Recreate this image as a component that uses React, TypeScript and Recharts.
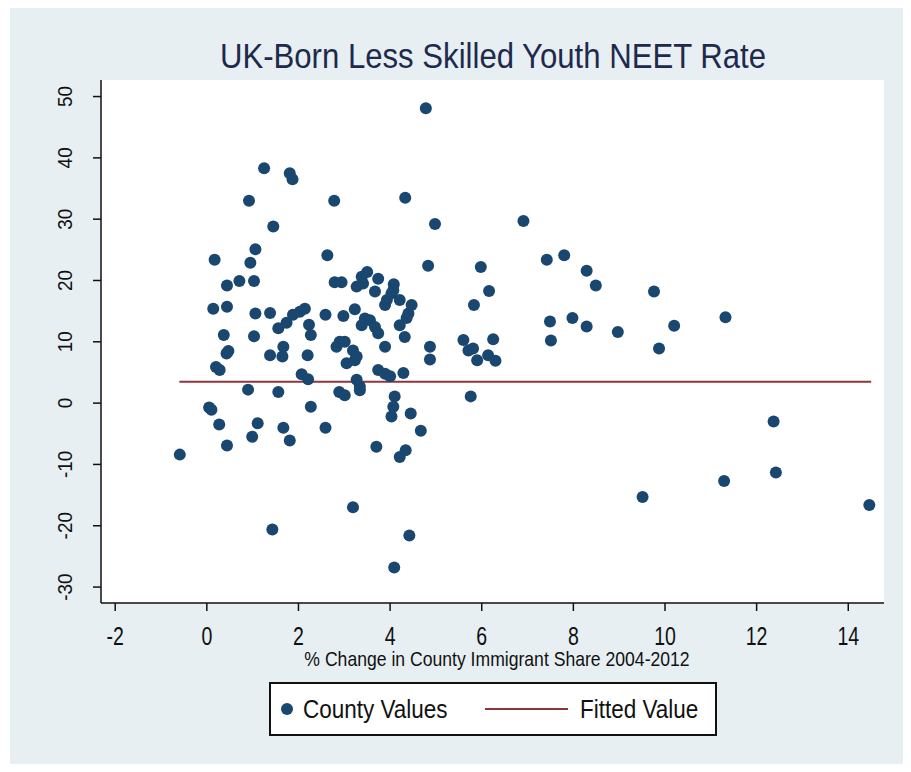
import React from 'react';
import { ScatterChart, Scatter, XAxis, YAxis, CartesianGrid } from 'recharts';

const COUNTY_X = [
  1.25, 1.81, 1.87, 0.92, 2.78, 1.45, 1.06, 0.17, 0.95, 2.63, 0.44, 0.71, 1.03, 2.79,
  0.14, 0.44, 1.06, 1.38, 1.56, 1.74, 1.88, 2.03, 2.14, 2.23, 2.27, 2.59, 0.37, 1.03,
  2.83, 1.67, 1.65, 1.38, 0.43, 0.47, 2.2, 0.2, 0.28, 2.07, 2.21, 0.9, 1.56, 2.89,
  0.05, 0.1, 2.27, 0.27, 1.11, 1.67, 2.59, 0.99, 1.81, 0.44, -0.59,
  4.33, 4.98, 4.83, 2.94, 3.27, 3.38, 3.5, 3.41, 3.74, 3.67, 4.08, 4.07,
  2.98, 3.23, 3.45, 3.56, 3.67, 3.74, 3.38, 3.89, 3.93, 4.03, 4.21, 4.47, 4.4, 4.36,
  4.21, 4.32, 2.9, 3.01, 3.19, 3.27, 3.23, 3.05, 3.89, 3.74, 3.89, 4.0, 4.29, 4.87,
  4.87, 3.27, 3.34, 3.34, 3.01, 4.1, 4.07, 4.03, 4.45, 4.67, 3.7, 4.21, 4.34,
  3.19, 1.43, 4.42, 4.09,
  6.91, 5.98, 6.16, 5.83, 7.42, 7.8, 8.29, 8.49, 7.49, 7.51, 7.98, 8.29, 8.97,
  5.6, 5.71, 5.81, 5.9, 6.25, 6.14, 6.3, 5.76,
  9.76, 10.2, 9.87, 11.32, 12.37, 12.42, 11.29, 9.51, 14.46, 4.78,
];
const COUNTY_Y = [
  38.3, 37.5, 36.5, 33.0, 33.0, 28.8, 25.1, 23.4, 22.9, 24.1, 19.2, 19.9, 19.9, 19.7,
  15.4, 15.7, 14.6, 14.7, 12.2, 13.1, 14.4, 14.9, 15.4, 12.8, 11.1, 14.4, 11.1, 10.9,
  9.2, 9.2, 7.6, 7.8, 8.1, 8.5, 7.8, 5.9, 5.4, 4.7, 3.9, 2.2, 1.8, 1.8,
  -0.7, -1.1, -0.6, -3.5, -3.3, -4.0, -4.0, -5.5, -6.1, -6.9, -8.4,
  33.5, 29.2, 22.4, 19.7, 19.0, 20.6, 21.4, 19.5, 20.3, 18.2, 19.4, 18.4,
  14.2, 15.3, 13.8, 13.5, 12.4, 11.4, 12.7, 16.0, 16.8, 17.9, 16.8, 16.0, 14.6, 13.9,
  12.7, 10.8, 10.0, 10.0, 8.6, 7.6, 7.0, 6.5, 9.2, 5.4, 4.8, 4.4, 4.9, 9.2,
  7.1, 3.8, 2.7, 2.1, 1.3, 1.1, -0.6, -2.2, -1.7, -4.5, -7.1, -8.8, -7.7,
  -17.0, -20.6, -21.6, -26.8,
  29.7, 22.2, 18.3, 16.0, 23.4, 24.1, 21.6, 19.2, 13.3, 10.2, 13.9, 12.5, 11.6,
  10.3, 8.6, 8.9, 7.0, 10.4, 7.8, 6.9, 1.1,
  18.2, 12.6, 8.9, 14.0, -3.0, -11.3, -12.7, -15.3, -16.6, 48.1,
];
const FIT_X = [-0.6, 14.5];
const FIT_Y = [3.5, 3.5];
const X_TICKS = [-2, 0, 2, 4, 6, 8, 10, 12, 14];
const Y_TICKS = [-30, -20, -10, 0, 10, 20, 30, 40, 50];
const X_DOMAIN = [-2.31, 14.78];
const Y_DOMAIN = [-32.6, 52.7];

const TITLE = 'UK-Born Less Skilled Youth NEET Rate';
const X_LABEL = '% Change in County Immigrant Share 2004-2012';
const SERIES_NAMES = ['County Values', 'Fitted Value'];

const NAVY = '#1a476f';
const MAROON = '#90353b';
const BG = '#e7eff2';
const GRID = '#e3ecef';
const FONT = '"Liberation Sans", Arial, sans-serif';

const countyData = COUNTY_X.map((x, i) => ({ x, y: COUNTY_Y[i] }));
const fitData = FIT_X.map((x, i) => ({ x, y: FIT_Y[i] }));

const Dot = (p: any) => <circle cx={p.cx} cy={p.cy} r={6} fill={NAVY} />;

const XTick = (p: any) => (
  <g transform={`translate(${p.x},${p.y + 32}) scale(0.78,1)`}>
    <text x={0} y={0} textAnchor="middle" fontSize={25} fontFamily={FONT} fill="#111">
      {p.payload.value}
    </text>
  </g>
);

const YTick = (p: any) => (
  <g transform={`translate(${p.x - 19},${p.y}) rotate(-90) scale(0.9,1)`}>
    <text x={0} y={0} textAnchor="middle" fontSize={21} fontFamily={FONT} fill="#111">
      {p.payload.value}
    </text>
  </g>
);

export default function App() {
  return (
    <div style={{ position: 'relative', width: 911, height: 772, margin: -8, background: '#fff', overflow: 'hidden' }}>
      <div style={{ position: 'absolute', left: 10, top: 4, width: 895, height: 764, background: BG }} />
      <div style={{ position: 'absolute', left: 0, top: 0 }}>
        <ScatterChart width={911} height={772} margin={{ top: 80, right: 27, left: 0, bottom: 129 }}>
          <rect x={101} y={80} width={783} height={523} fill="#fff" />
          <CartesianGrid horizontal vertical={false} stroke={GRID} strokeWidth={1.5} fill="#fff" />
          <XAxis
            type="number"
            dataKey="x"
            domain={X_DOMAIN}
            ticks={X_TICKS}
            height={40}
            tickSize={8}
            tickMargin={2}
            stroke="#111"
            strokeWidth={1.5}
            tick={<XTick />}
            allowDataOverflow
          />
          <YAxis
            type="number"
            dataKey="y"
            domain={Y_DOMAIN}
            ticks={Y_TICKS}
            width={101}
            tickSize={8}
            tickMargin={2}
            stroke="#111"
            strokeWidth={1.5}
            tick={<YTick />}
            allowDataOverflow
          />
          <Scatter
            name={SERIES_NAMES[1]}
            data={fitData}
            line={{ stroke: MAROON, strokeWidth: 2 }}
            shape={() => <g />}
            isAnimationActive={false}
          />
          <Scatter name={SERIES_NAMES[0]} data={countyData} shape={Dot} isAnimationActive={false} />
        </ScatterChart>
      </div>
      <svg width={911} height={772} style={{ position: 'absolute', left: 0, top: 0, pointerEvents: 'none' }}>
        <g transform="translate(493,68) scale(0.865,1)">
          <text x={0} y={0} textAnchor="middle" fontSize={36} fontFamily={FONT} fill="#1d2a4d">
            {TITLE}
          </text>
        </g>
        <g transform="translate(497,666) scale(0.88,1)">
          <text x={0} y={0} textAnchor="middle" fontSize={20} fontFamily={FONT} fill="#111">
            {X_LABEL}
          </text>
        </g>
        <rect x={270} y={683} width={446} height={52} fill="#fff" stroke="#111" strokeWidth={2} />
        <circle cx={287} cy={709} r={6} fill={NAVY} />
        <g transform="translate(303,718) scale(0.9,1)">
          <text x={0} y={0} fontSize={25} fontFamily={FONT} fill="#111">
            {SERIES_NAMES[0]}
          </text>
        </g>
        <line x1={485} y1={709} x2={568} y2={709} stroke={MAROON} strokeWidth={2} />
        <g transform="translate(580,718) scale(0.9,1)">
          <text x={0} y={0} fontSize={25} fontFamily={FONT} fill="#111">
            {SERIES_NAMES[1]}
          </text>
        </g>
      </svg>
    </div>
  );
}
